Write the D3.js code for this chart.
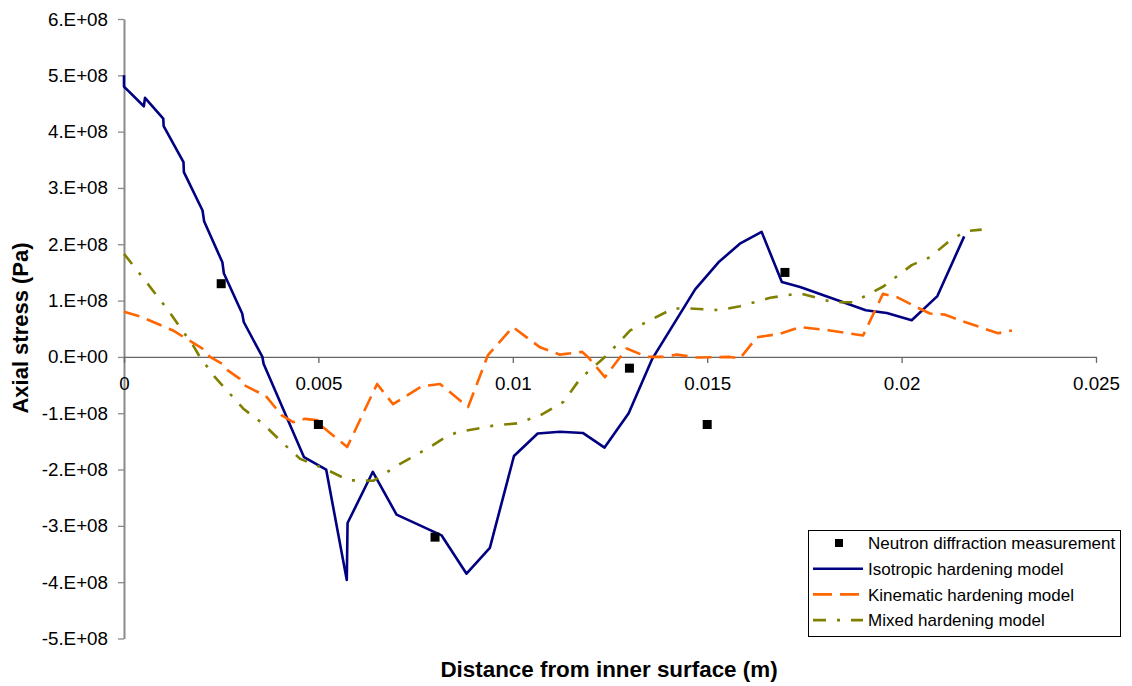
<!DOCTYPE html>
<html>
<head>
<meta charset="utf-8">
<script src="https://cdn.jsdelivr.net/npm/d3@7"></script>
<style>
  html, body { margin: 0; padding: 0; background: #fff; }
  svg { display: block; font-family: "Liberation Sans", Arial, sans-serif; }
</style>
</head>
<body>
<svg id="chart" width="1132" height="686"></svg>
<script>
// Axis ticks
const xTicks = [0, 0.005, 0.01, 0.015, 0.02, 0.025];
const xTickLabels = ["0", "0.005", "0.01", "0.015", "0.02", "0.025"];
const yTicks = [6e8, 5e8, 4e8, 3e8, 2e8, 1e8, 0, -1e8, -2e8, -3e8, -4e8, -5e8];
const yTickLabels = ["6.E+08", "5.E+08", "4.E+08", "3.E+08", "2.E+08", "1.E+08", "0.E+00",
                     "-1.E+08", "-2.E+08", "-3.E+08", "-4.E+08", "-5.E+08"];

// Neutron diffraction measurement (m, Pa)
const measX = [0.0025, 0.005, 0.008, 0.013, 0.015, 0.017];
const measY = [1.3e8, -1.2e8, -3.2e8, -0.2e8, -1.2e8, 1.5e8];

// Isotropic hardening model (m, 1e8 Pa)
const isoX = [0, 0, 0.00051, 0.00054, 0.00101, 0.00102, 0.00153, 0.00154, 0.00202, 0.00206,
  0.00253, 0.00257, 0.00304, 0.00308, 0.00356, 0.00359, 0.00463, 0.0052, 0.00573, 0.00575,
  0.0064, 0.00701, 0.00817, 0.00881, 0.00941, 0.01003, 0.01064, 0.01121, 0.0118, 0.01236,
  0.01298, 0.01359, 0.01469, 0.01529, 0.01584, 0.0164, 0.01692, 0.01739, 0.01908, 0.01962,
  0.02026, 0.02092, 0.02161];
const isoY = [5.0, 4.8, 4.45, 4.6, 4.23, 4.1, 3.46, 3.28, 2.6, 2.41,
  1.68, 1.48, 0.77, 0.62, 0.0, -0.12, -1.78, -2.0, -3.96, -2.95,
  -2.04, -2.8, -3.17, -3.85, -3.39, -1.76, -1.36, -1.33, -1.35, -1.61,
  -1.0, -0.03, 1.2, 1.68, 2.01, 2.22, 1.33, 1.24, 0.83, 0.78,
  0.65, 1.08, 2.14];

// Kinematic hardening model (m, 1e8 Pa)
const kinX = [0, 0.00041, 0.00126, 0.00201, 0.00221, 0.00252, 0.00267, 0.00298, 0.00306, 0.00337,
  0.00363, 0.00406, 0.00435, 0.00466, 0.00504, 0.00512, 0.00574, 0.00651, 0.00692, 0.00766,
  0.00813, 0.00885, 0.00936, 0.01, 0.0107, 0.01121, 0.01178, 0.01193, 0.01237, 0.01293,
  0.01345, 0.01386, 0.01422, 0.01474, 0.01559, 0.01584, 0.01628, 0.01687, 0.01739, 0.01816,
  0.01901, 0.01952, 0.01988, 0.0204, 0.02073, 0.02112, 0.0215, 0.02248, 0.02284];
const kinY = [0.8, 0.72, 0.47, 0.15, 0.0, -0.12, -0.24, -0.39, -0.49, -0.6,
  -0.68, -1.04, -1.16, -1.1, -1.13, -1.25, -1.6, -0.48, -0.84, -0.52,
  -0.48, -0.89, 0.03, 0.53, 0.17, 0.04, 0.09, 0.0, -0.36, 0.15,
  0.0, 0.0, 0.04, -0.01, 0.0, -0.03, 0.35, 0.41, 0.53, 0.47,
  0.38, 1.12, 1.06, 0.88, 0.77, 0.75, 0.65, 0.42, 0.47];

// Mixed hardening model (m, 1e8 Pa)
const mixX = [0, 0.00054, 0.0011, 0.00178, 0.00195, 0.00234, 0.00307, 0.00358, 0.0041, 0.00453,
  0.00521, 0.00577, 0.00641, 0.0071, 0.00787, 0.00821, 0.00856, 0.0095, 0.0101, 0.0107,
  0.0113, 0.01173, 0.01242, 0.01302, 0.01361, 0.01413, 0.01456, 0.01533, 0.01584, 0.01662,
  0.01739, 0.01824, 0.01876, 0.01953, 0.02026, 0.02073, 0.02116, 0.02163, 0.02206];
const mixY = [1.83, 1.36, 0.86, 0.2, 0.0, -0.36, -0.92, -1.19, -1.54, -1.81,
  -2.0, -2.19, -2.2, -1.9, -1.6, -1.45, -1.34, -1.22, -1.18, -1.04,
  -0.8, -0.39, 0.03, 0.47, 0.68, 0.86, 0.86, 0.83, 0.9, 1.05,
  1.13, 0.97, 0.97, 1.25, 1.63, 1.77, 2.02, 2.23, 2.26];

const seriesNames = ["Neutron diffraction measurement", "Isotropic hardening model",
                     "Kinematic hardening model", "Mixed hardening model"];

const svg = d3.select("#chart");
const x = d3.scaleLinear().domain([0, 0.025]).range([124, 1096]);
const y = d3.scaleLinear().domain([-5e8, 6e8]).range([638.5, 19]);

const styles = [
  null,
  { color: "#000080", dash: null },
  { color: "#FF6600", dash: "16,8" },
  { color: "#808000", dash: "13,11,3,11" }
];

// Y axis at x = 0
const yAxis = d3.axisLeft(y).tickValues(yTicks)
  .tickFormat((d, i) => yTickLabels[i]).tickSize(6).tickSizeOuter(0).tickPadding(10);
const gy = svg.append("g").attr("transform", `translate(${x(0)},0)`).call(yAxis);
gy.select(".domain").attr("stroke", "#8a8a8a").attr("stroke-width", 2);
gy.selectAll(".tick line").attr("stroke", "#8a8a8a").attr("stroke-width", 1.3);
gy.selectAll(".tick text").attr("font-size", 18.8).attr("fill", "#000")
  .attr("font-family", "Liberation Sans, Arial, sans-serif");

// X axis along y = 0
const xAxis = d3.axisBottom(x).tickValues(xTicks)
  .tickFormat((d, i) => xTickLabels[i]).tickSize(6).tickSizeOuter(0);
const gx = svg.append("g").attr("transform", `translate(0,${y(0)})`).call(xAxis);
gx.select(".domain").attr("stroke", "#666").attr("stroke-width", 1.3);
gx.selectAll(".tick line").attr("stroke", "#666").attr("stroke-width", 1.3);
gx.selectAll(".tick text").attr("font-size", 18.8).attr("fill", "#000")
  .attr("font-family", "Liberation Sans, Arial, sans-serif")
  .attr("y", 33).attr("dy", 0);

// Model curves
const line = d3.line().x(d => x(d[0])).y(d => y(d[1] * 1e8));
const curves = [
  [isoX, isoY, styles[1]],
  [kinX, kinY, styles[2]],
  [mixX, mixY, styles[3]]
];
curves.forEach(([xs, ys, st]) => {
  const pts = xs.map((v, i) => [v, ys[i]]);
  svg.append("path").datum(pts)
    .attr("d", line)
    .attr("fill", "none")
    .attr("stroke", st.color)
    .attr("stroke-width", 2.6)
    .attr("stroke-linejoin", "round")
    .attr("stroke-dasharray", st.dash);
});

// Measurement points
svg.append("g").selectAll("rect")
  .data(measX.map((v, i) => [v, measY[i]]))
  .join("rect")
  .attr("x", d => x(d[0]) - 4.5)
  .attr("y", d => y(d[1]) - 4.5)
  .attr("width", 9).attr("height", 9)
  .attr("fill", "#000");

// Axis titles
svg.append("text")
  .attr("x", 609).attr("y", 677)
  .attr("text-anchor", "middle")
  .attr("font-size", 22.4).attr("font-weight", "bold")
  .text("Distance from inner surface (m)");
svg.append("text")
  .attr("transform", "translate(28,328) rotate(-90)")
  .attr("text-anchor", "middle")
  .attr("font-size", 22).attr("font-weight", "bold")
  .text("Axial stress (Pa)");

// Legend
const lg = svg.append("g");
lg.append("rect").attr("x", 808.5).attr("y", 530.5).attr("width", 312).attr("height", 106)
  .attr("fill", "#fff").attr("stroke", "#000").attr("stroke-width", 1);
seriesNames.forEach((name, i) => {
  const cy = 543 + i * 25.7;
  if (i === 0) {
    lg.append("rect").attr("x", 835).attr("y", cy - 4).attr("width", 8).attr("height", 8).attr("fill", "#000");
  } else {
    lg.append("line").attr("x1", 813).attr("x2", 863).attr("y1", cy).attr("y2", cy)
      .attr("stroke", styles[i].color).attr("stroke-width", 2.6)
      .attr("stroke-dasharray", i === 2 ? "19,8" : styles[i].dash);
  }
  lg.append("text").attr("x", 868).attr("y", cy + 6.3)
    .attr("font-size", 17).attr("fill", "#000").text(name);
});
</script>
</body>
</html>
